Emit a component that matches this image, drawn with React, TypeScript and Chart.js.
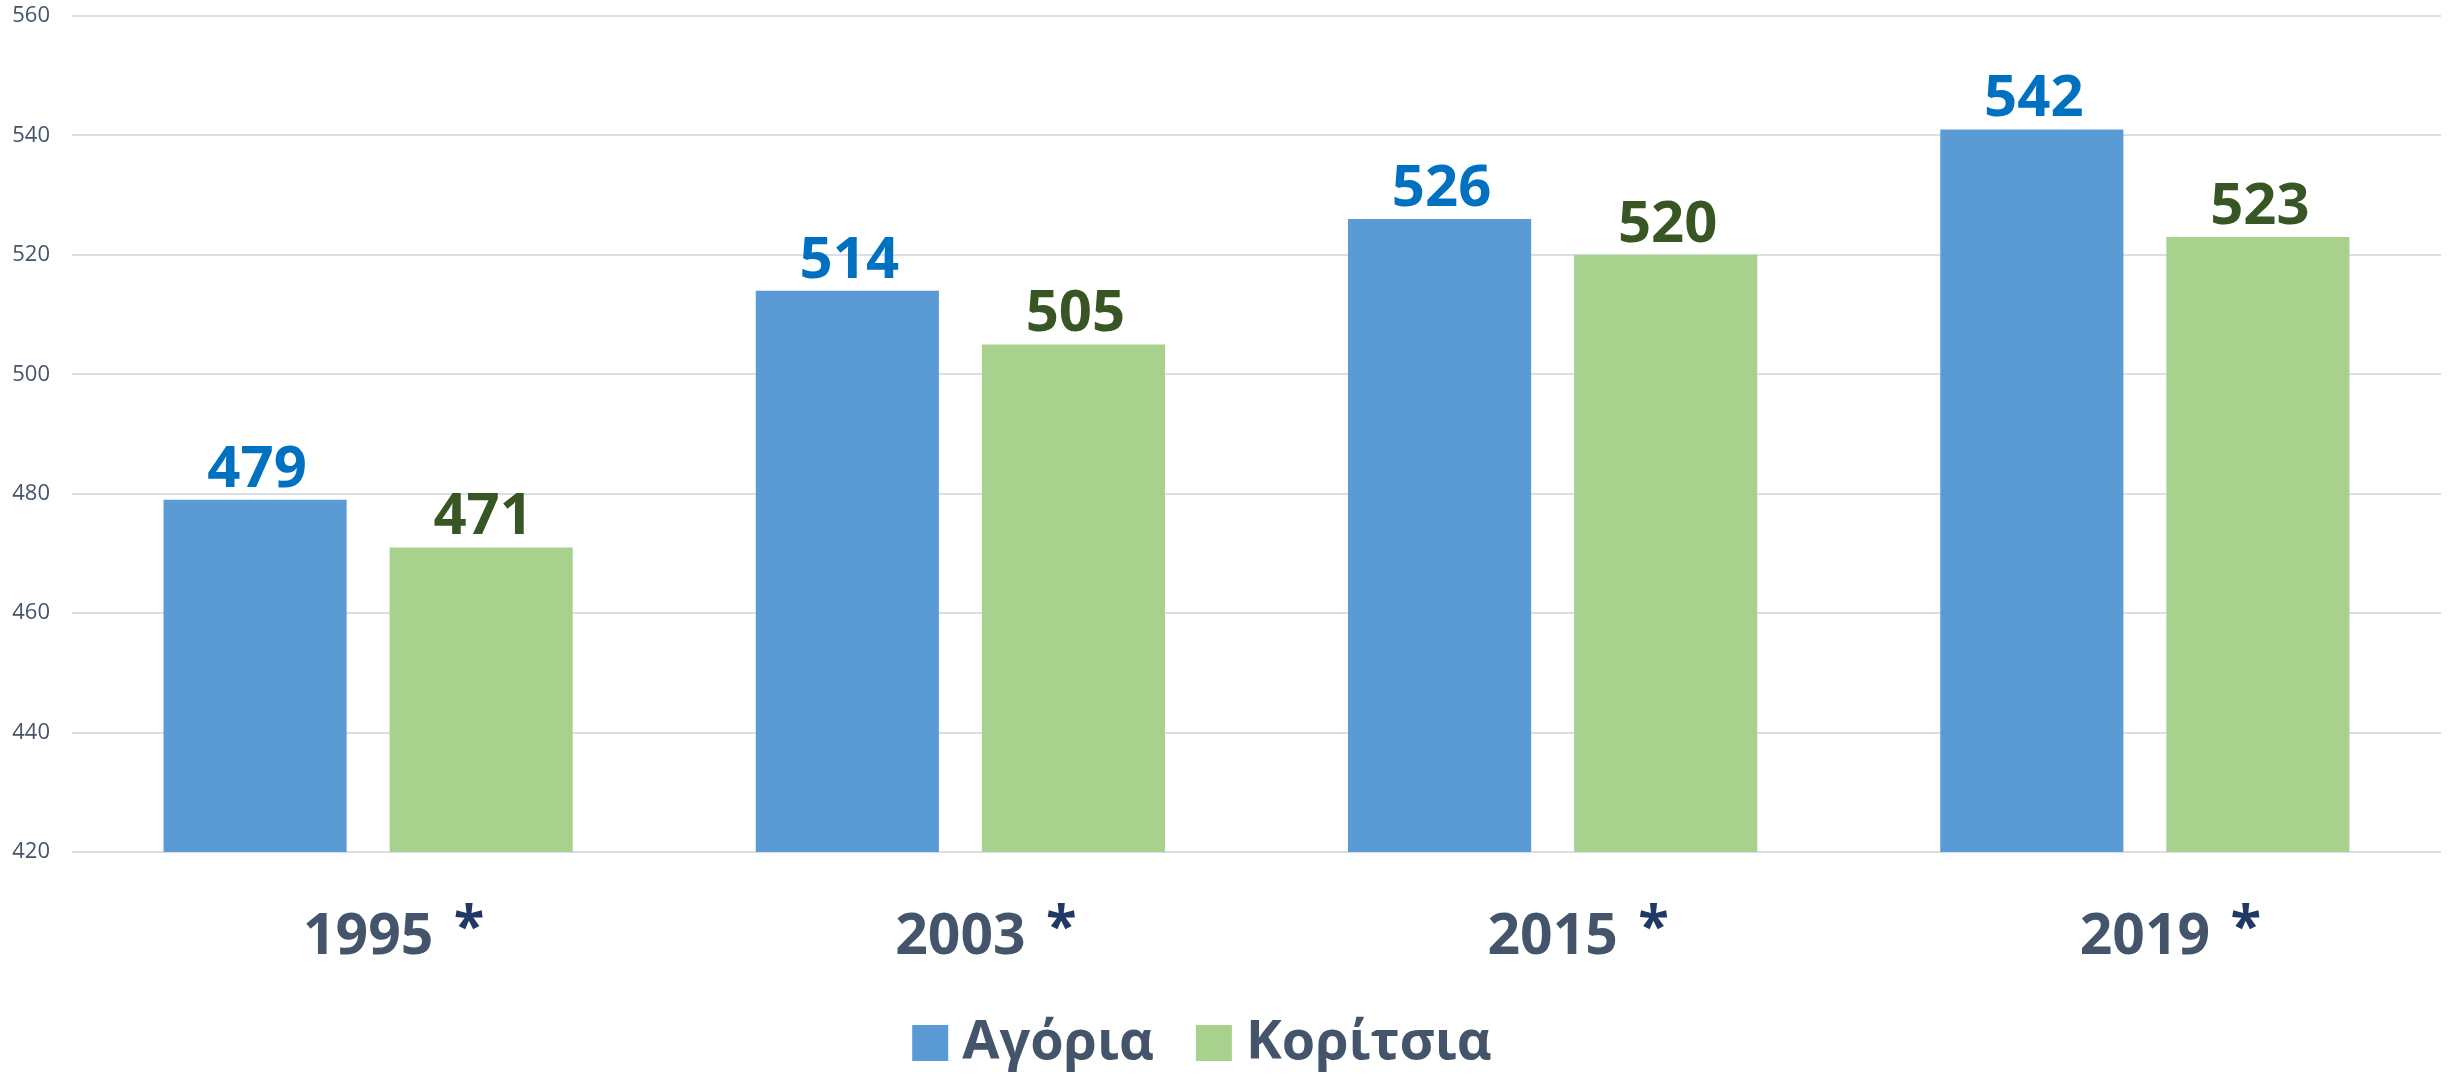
import React, { useEffect, useRef } from "react";
import { Chart, registerables } from "chart.js";

Chart.register(...registerables);

const years = ["1995", "2003", "2015", "2019"];
const yearMarks = ["*", "*", "*", "*"];
const boysName = "Αγόρια";
const girlsName = "Κορίτσια";
const boys = [479, 514, 526, 541];
const girls = [471, 505, 520, 523];
const boysText = ["479", "514", "526", "542"];
const girlsText = ["471", "505", "520", "523"];
const yTicks = [420, 440, 460, 480, 500, 520, 540, 560];

const FONT = "'Open Sans', 'Noto Sans', sans-serif";
const SLATE = "#44546A";
const BLUE = "#5B9BD5";
const GREEN = "#A9D18E";

const labelPlugin = {
  id: "valueLabels",
  afterDatasetsDraw(chart: any) {
    const ctx = chart.ctx;
    const area = chart.chartArea;
    ctx.save();
    // value labels above bars
    ctx.font = `bold 58px ${FONT}`;
    ctx.textAlign = "center";
    ctx.textBaseline = "alphabetic";
    const texts = [boysText, girlsText];
    const colors = ["#0070C0", "#375623"];
    chart.data.datasets.forEach((_: any, di: number) => {
      const meta = chart.getDatasetMeta(di);
      meta.data.forEach((bar: any, i: number) => {
        ctx.fillStyle = colors[di];
        ctx.fillText(texts[di][i], bar.x + 2, bar.y - 13);
      });
    });
    // asterisks next to year labels
    const xs = chart.scales.x;
    ctx.font = `bold 54px ${FONT}`;
    const m0 = ctx.measureText("*");
    const h0 = m0.actualBoundingBoxAscent + m0.actualBoundingBoxDescent;
    const size = 54 * (27 / (h0 || 18));
    ctx.font = `bold ${size}px ${FONT}`;
    const m = ctx.measureText("*");
    ctx.fillStyle = "#203864";
    ctx.textAlign = "center";
    yearMarks.forEach((mk, i) => {
      const cx = xs.getPixelForValue(i);
      ctx.fillText(mk, cx + 101, area.bottom + 51 + m.actualBoundingBoxAscent);
    });
    // legend
    ctx.font = `bold 54px ${FONT}`;
    ctx.textAlign = "left";
    const items = chart.data.datasets.map((d: any) => ({
      text: d.label,
      color: d.backgroundColor,
      w: ctx.measureText(d.label).width,
    }));
    const box = 36;
    const gapBox = 14;
    const gapItem = 42;
    let total = 0;
    items.forEach((it: any, i: number) => {
      total += box + gapBox + it.w + (i < items.length - 1 ? gapItem : 0);
    });
    let x = 1202 - total / 2;
    const boxTop = 1025;
    items.forEach((it: any) => {
      ctx.fillStyle = it.color;
      ctx.fillRect(x, boxTop, box, box);
      x += box + gapBox;
      ctx.fillStyle = SLATE;
      ctx.fillText(it.text, x, 1059);
      x += it.w + gapItem;
    });
    ctx.restore();
  },
};

export default function App() {
  const ref = useRef<HTMLCanvasElement | null>(null);
  useEffect(() => {
    if (!ref.current) return;
    const chart = new Chart(ref.current, {
      type: "bar",
      data: {
        labels: years,
        datasets: [
          {
            label: boysName,
            data: boys,
            backgroundColor: BLUE,
            categoryPercentage: 0.7635,
            barPercentage: 0.81,
          },
          {
            label: girlsName,
            data: girls,
            backgroundColor: GREEN,
            categoryPercentage: 0.7635,
            barPercentage: 0.81,
          },
        ],
      },
      options: {
        animation: false,
        responsive: true,
        maintainAspectRatio: false,
        layout: { padding: { left: 12, right: 9, top: 0, bottom: 99 } },
        plugins: {
          legend: { display: false },
          tooltip: { enabled: false },
        },
        scales: {
          x: {
            grid: { display: false, drawTicks: false },
            border: { display: false },
            afterFit: (scale: any) => {
              scale.height = 123;
            },
            ticks: {
              color: SLATE,
              padding: 52,
              font: { family: FONT, size: 57, weight: "bold" },
            },
          },
          y: {
            min: yTicks[0],
            max: yTicks[yTicks.length - 1],
            afterBuildTicks: (scale: any) => {
              scale.ticks = yTicks.map((v) => ({ value: v }));
            },
            afterFit: (scale: any) => {
              scale.width = 60;
              scale.paddingTop = 16;
              scale.paddingBottom = 0;
            },
            grid: { color: "#D9DEE7", lineWidth: 2, drawTicks: false },
            border: { display: false },
            ticks: {
              color: SLATE,
              padding: 22,
              font: { family: FONT, size: 22 },
            },
          },
        },
      },
      plugins: [labelPlugin],
    });
    return () => chart.destroy();
  }, []);
  return (
    <div style={{ position: "fixed", left: 0, top: 0, width: 2450, height: 1074, background: "#fff" }}>
      <canvas ref={ref} />
    </div>
  );
}
